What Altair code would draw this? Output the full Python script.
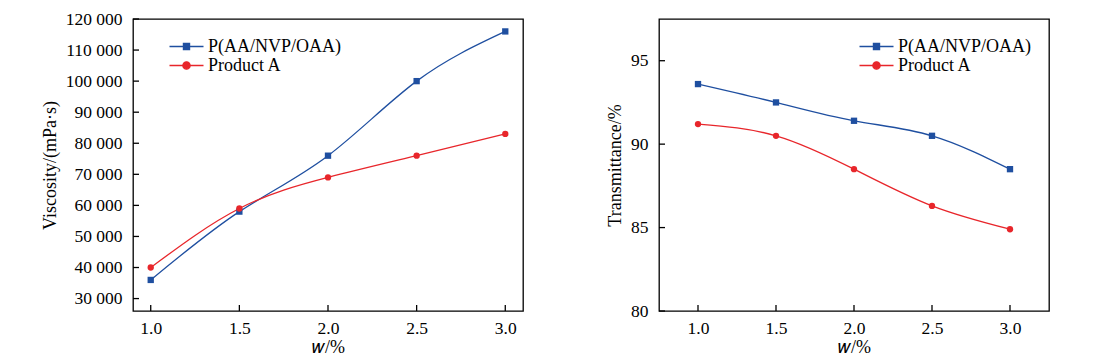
import altair as alt
import pandas as pd

w_values = [1.0, 1.5, 2.0, 2.5, 3.0]
series_names = ["P(AA/NVP/OAA)", "Product A"]
viscosity_p = [36000, 58000, 76000, 100000, 116000]
viscosity_a = [40000, 59000, 69000, 76000, 83000]
transmittance_p = [93.6, 92.5, 91.4, 90.5, 88.5]
transmittance_a = [91.2, 90.5, 88.5, 86.3, 84.9]
visc_ticks = [30000, 40000, 50000, 60000, 70000, 80000, 90000, 100000, 110000, 120000]
trans_ticks = [80, 85, 90, 95]

BLUE = "#1f4fa0"
RED = "#e8262b"
FONT = "Liberation Serif"
W, H = 390, 292


def make_df(p_vals, a_vals):
    rows = []
    for name, vals in zip(series_names, [p_vals, a_vals]):
        for x, y in zip(w_values, vals):
            rows.append({"w": x, "value": y, "series": name, "label": name})
    return pd.DataFrame(rows)


color_scale = alt.Scale(domain=series_names, range=[BLUE, RED])
shape_scale = alt.Scale(domain=series_names, range=["square", "circle"])
legend_shape_scale = alt.Scale(
    domain=series_names,
    range=[
        "M-2,0L2,0M-0.36,-0.36L0.36,-0.36L0.36,0.36L-0.36,0.36Z",
        "M-2,0L2,0M-0.43,0A0.43,0.43,0,1,0,0.43,0A0.43,0.43,0,1,0,-0.43,0Z",
    ],
)

color_expr = "datum.value == '%s' ? '%s' : '%s'" % (series_names[1], RED, BLUE)


def legend_props(legend_x):
    return dict(
        title=None, orient="none", legendX=legend_x, legendY=18,
        symbolSize=289, symbolStrokeWidth=1.3,
        symbolFillColor={"expr": color_expr}, symbolStrokeColor={"expr": color_expr},
        labelFont=FONT, labelFontSize=18, labelColor="black",
        labelOffset=12, rowPadding=0, padding=0,
    )


def panel(df, ydomain, yticks, ytitle, xdomain, legend_x, ylabel_expr):
    base = alt.Chart(df)
    x_scale = alt.Scale(domain=xdomain, nice=False, zero=False)
    y_scale = alt.Scale(domain=ydomain, nice=False, zero=False)

    x_axis = alt.Axis(
        values=w_values, format=".1f", title="𝑤/%", ticks=False, domain=False,
        grid=False, labelPadding=8, titlePadding=2, labelOverlap=False,
    )
    y_axis = alt.Axis(
        values=yticks, labelExpr=ylabel_expr, title=ytitle, ticks=False, domain=False,
        grid=False, labelPadding=11, titlePadding=6, labelOverlap=False,
    )

    lines = base.mark_line(interpolate="natural", strokeWidth=1.3).encode(
        x=alt.X("w:Q", scale=x_scale, axis=x_axis),
        y=alt.Y("value:Q", scale=y_scale, axis=y_axis),
        color=alt.Color("series:N", scale=color_scale, legend=None),
    )
    points = base.mark_point(filled=True, opacity=1).encode(
        x=alt.X("w:Q", scale=x_scale, axis=x_axis),
        y=alt.Y("value:Q", scale=y_scale, axis=y_axis),
        color=alt.Color("series:N", scale=color_scale, legend=None),
        shape=alt.Shape("series:N", scale=shape_scale, legend=None),
        size=alt.value(40),
    )
    # inward tick marks on the y axis and x axis
    y_inward = alt.Chart(pd.DataFrame({"value": yticks})).mark_rule(
        color="black", strokeWidth=1.3
    ).encode(
        y=alt.Y("value:Q", scale=y_scale, axis=y_axis),
        x=alt.value(0),
        x2=alt.value(6),
    )
    x_inward = alt.Chart(pd.DataFrame({"w": w_values})).mark_rule(
        color="black", strokeWidth=1.3
    ).encode(
        x=alt.X("w:Q", scale=x_scale, axis=x_axis),
        y=alt.value(H),
        y2=alt.value(H - 6),
    )
    lp = legend_props(legend_x)
    legend_layer = base.mark_point(filled=True, opacity=1).encode(
        x=alt.X("w:Q", scale=x_scale, axis=x_axis),
        y=alt.Y("value:Q", scale=y_scale, axis=y_axis),
        fill=alt.Fill("label:N", scale=color_scale, legend=alt.Legend(**lp)),
        stroke=alt.Stroke("label:N", scale=color_scale, legend=alt.Legend(**lp)),
        shape=alt.Shape("label:N", scale=legend_shape_scale, legend=alt.Legend(**lp)),
        size=alt.value(0),
    )

    return alt.layer(lines, points, y_inward, x_inward, legend_layer).resolve_scale(
        shape="independent"
    ).properties(width=W, height=H)


visc_df = make_df(viscosity_p, viscosity_a)
trans_df = make_df(transmittance_p, transmittance_a)

left = panel(
    visc_df, [26000, 120000], visc_ticks, "Viscosity/(mPa·s)", [0.9, 3.1], 44,
    "replace(format(datum.value, ',d'), ',', ' ')",
)
right = panel(
    trans_df, [80, 97.5], trans_ticks, "Transmittance/%", [0.75, 3.25], 208,
    "format(datum.value, 'd')",
)

chart = alt.hconcat(left, right, spacing=81).resolve_scale(
    color="independent", shape="independent", fill="independent", stroke="independent",
    x="independent", y="independent"
).properties(
    padding={"left": 32, "top": 1, "right": 5, "bottom": 5},
    background="white",
).configure_view(
    stroke="black", strokeWidth=1.3
).configure_axis(
    labelFont=FONT, labelFontSize=17.5, labelColor="black", labelOverlap=False,
    titleFont=FONT, titleFontSize=18, titleColor="black", titleFontWeight="normal",
    tickColor="black", tickWidth=1.3, domainColor="black",
)

chart.save("out.html", embed_options={"renderer": "svg", "actions": False})
